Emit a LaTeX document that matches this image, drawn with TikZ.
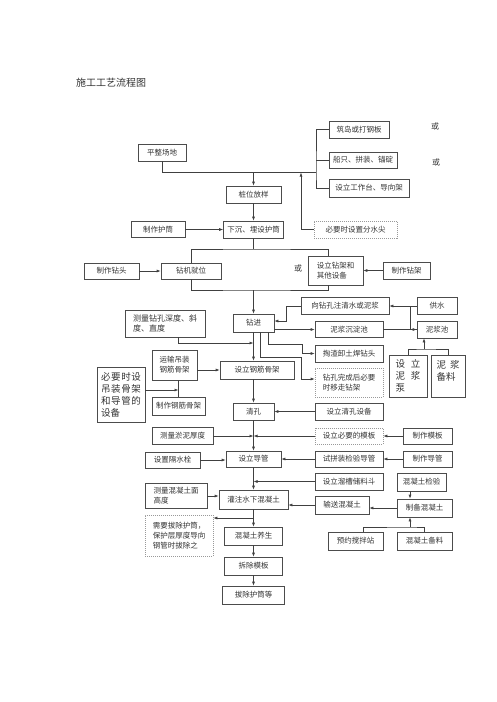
\documentclass[tikz,border=0pt]{standalone}
\usepackage{fontspec}
\newfontfamily\cjk{Noto Sans CJK SC}
\usetikzlibrary{arrows.meta}

\tikzset{
  box/.style={draw=black!70, line width=.6pt, inner sep=1pt, align=center,
    text=black!80, font=\cjk\fontsize{7.5}{10}\selectfont},
  dbox/.style={box, draw=black!40, dash pattern=on 1pt off 1pt},
  wh/.style 2 args={minimum width=#1pt, minimum height=#2pt},
  txt/.style={text=black!80, font=\cjk\fontsize{8}{10}\selectfont},
  big/.style={font=\cjk\fontsize{9.5}{12}\selectfont},
  conn/.style={draw=black!75, line width=.6pt},
  arr/.style={conn, -{Latex[length=4pt,width=3pt]}},
}

\begin{document}
\begin{tikzpicture}[x=1pt,y=-1pt]
  \useasboundingbox (0,0) rectangle (496,702);
  % 标题
  \node[font=\cjk\fontsize{10}{12}\selectfont,text=black!80] (title) at (111,83) {施工工艺流程图};
  % 场地与护筒
  \node[box,wh={48}{17}] (pzcd) at (162,152.5) {平整场地};
  \node[box,wh={60}{17}] (zd) at (359,129.5) {筑岛或打钢板};
  \node[box,wh={68}{16}] (cz) at (363,160) {船只、拼装、锚碇};
  \node[box,wh={80}{18}] (gzt) at (369,188) {设立工作台、导向架};
  \node[txt] (or1) at (435,126) {或};
  \node[txt] (or2) at (436,162) {或};
  \node[box,wh={55}{17}] (zwfy) at (253.5,194.5) {桩位放样};
  \node[dbox,wh={83}{17}] (fsj) at (355.5,229.5) {必要时设置分水尖};
  \node[box,wh={54}{16}] (hzt) at (158,229.5) {制作护筒};
  \node[box,wh={60}{17}] (xc) at (253.5,229.5) {下沉、埋设护筒};
  \coordinate (b1) at (316,172.5);
  \coordinate (b2) at (301,172.5);
  % 钻机
  \node[box,wh={55}{16}] (ztsj) at (111.5,271) {制作钻头};
  \node[box,wh={60}{16}] (zjjw) at (191,271) {钻机就位};
  \node[box,wh={55}{29},align=left] (zjsb) at (335.5,270.5) {设立钻架和\\其他设备};
  \node[box,wh={47}{17}] (zzzj) at (406.5,270.5) {制作钻架};
  \node[txt] (or3) at (298,268) {或};
  \coordinate (s1) at (253.5,249);
  \coordinate (s2) at (253.5,290);
  \coordinate (s3) at ([xshift=-7.5pt]zjsb.north);
  \coordinate (s4) at ([xshift=-7.5pt]zjsb.south);
  % 钻进
  \node[box,wh={41}{18}] (zj) at (253.5,323) {钻进};
  \node[box,wh={80}{27},align=left,font=\cjk\fontsize{8}{10}\selectfont] (clzk) at (165,323.5) {测量钻孔深度、斜\\度、直度};
  \node[box,wh={88}{17}] (zsqs) at (345,306) {向钻孔注清水或泥浆};
  \node[box,wh={40}{17}] (gs) at (437,306) {供水};
  \node[box,wh={68}{16}] (njcd) at (349,329.5) {泥浆沉淀池};
  \node[box,wh={40}{17}] (njc) at (437,329.5) {泥浆池};
  \node[box,wh={68}{17}] (tz) at (349,353.5) {掏渣卸土焊钻头};
  \node[dbox,wh={68}{29},align=left] (yzj) at (349,382.5) {钻孔完成后必要\\时移走钻架};
  \node[box,big,wh={38}{42},align=left] (njb) at (408,376) {设\hspace{6pt}立\\泥\hspace{6pt}浆\\泵};
  \node[box,big,wh={34}{42},align=left] (njbl) at (448,376) {泥\hspace{4pt}浆\\备料\\\mbox{}};
  \coordinate (c4) at (286,321);
  \coordinate (c5) at (268,344);
  \coordinate (c6) at (302,344);
  \coordinate (c7) at (260,357);
  \coordinate (c8) at (301,357);
  \coordinate (c9) at (410,306);
  \coordinate (c10) at (424,349);
  \coordinate (m1) at (253.5,343);
  % 钢筋骨架
  \node[box,wh={45}{30}] (ysdz) at (174.5,365) {运输吊装\\钢筋骨架};
  \node[box,big,wh={48}{55},align=left] (bzsb) at (121,394.5)
    {\makebox[40pt][s]{必\hfill 要\hfill 时\hfill 设}\\\makebox[40pt][s]{吊\hfill 装\hfill 骨\hfill 架}\\\makebox[40pt][s]{和\hfill 导\hfill 管\hfill 的}\\\makebox[40pt][l]{设备}};
  \node[box,wh={53}{18}] (zzgj) at (178.5,406) {制作钢筋骨架};
  \node[box,wh={74}{18}] (sljg) at (257,370) {设立钢筋骨架};
  \coordinate (m4) at (178.5,390);
  % 清孔
  \node[box,wh={41}{17}] (qk) at (253.5,411.5) {清孔};
  \node[box,wh={68}{17}] (qksb) at (349,411.5) {设立清孔设备};
  \node[box,wh={61}{17}] (clyn) at (182.5,436) {测量淤泥厚度};
  \node[dbox,wh={68}{16}] (mb) at (349,436) {设立必要的模板};
  \node[box,wh={49}{16}] (zzmb) at (427.5,436) {制作模板};
  \coordinate (m2) at (253.5,436);
  % 导管
  \node[box,wh={55}{16}] (gss) at (172.5,460) {设置隔水栓};
  \node[box,wh={55}{16}] (sldg) at (253.5,459) {设立导管};
  \node[box,wh={68}{16}] (spz) at (349,459) {试拼装检验导管};
  \node[box,wh={49}{16}] (zzdg) at (427.5,459) {制作导管};
  \node[box,wh={68}{17}] (lc) at (349,481.5) {设立溜槽储料斗};
  \coordinate (m3) at (253.5,481.5);
  % 混凝土
  \node[box,wh={49}{18}] (hjy) at (421.5,482) {混凝土检验};
  \node[box,wh={62}{25},align=left] (clhm) at (176,496) {测量混凝土面\\高度};
  \node[box,wh={69}{19}] (gz) at (253.5,499.5) {灌注水下混凝土};
  \node[box,wh={54}{18}] (ssh) at (342,505) {输送混凝土};
  \node[box,wh={55}{18}] (zbh) at (424.5,508) {制备混凝土};
  \node[box,wh={55}{18}] (yyj) at (355.5,541) {预约搅拌站};
  \node[box,wh={55}{18}] (hbl) at (424.5,541) {混凝土备料};
  \node[dbox,wh={68}{41},align=left] (bcht) at (179,535.5) {需要拔除护筒，\\保护层厚度导向\\钢管时拔除之};
  \node[box,wh={58}{18}] (yh) at (253.5,536) {混凝土养生};
  \node[box,wh={58}{18}] (cm) at (253.5,566) {拆除模板};
  \node[box,wh={62}{18}] (bc) at (253.5,595) {拔除护筒等};
  \coordinate (m5) at (253.5,518);
  \coordinate (c11) at (410,527);
  \coordinate (c12) at ([xshift=-11.5pt]hjy.south);

  % 上部连线
  \draw[conn] (zd.west) -| (b1) |- (gzt.west);
  \draw[conn] (cz.west) -- (cz.west -| b1);
  \draw[conn] (pzcd.south) |- (b1);
  \draw[arr] (zwfy.north |- b1) -- (zwfy.north);
  \draw[arr] (fsj.west) -| (b2);
  \draw[arr] (hzt.east) -- (hzt.east -| xc.west);
  \draw[conn] (xc.south) -- (s1);
  \draw[conn] (zjjw.north) |- (s1) -| (s3);
  \draw[conn] (zjjw.south) |- (s2) -| (s4);
  \draw[arr] (s2) -- (zj.north);
  \draw[arr] (ztsj) -- (zjjw);
  \draw[arr] (zzzj.west) -- (zzzj.west -| zjsb.east);
  % 主线
  \foreach \a/\b in {zwfy/xc, qk/sldg, sldg/gz, gz/yh, yh/cm, cm/bc}
    \draw[arr] (\a) -- (\b);
  \draw[arr] (zj.south) -- (zj.south |- sljg.north);
  \draw[arr] (qk.north |- sljg.south) -- (qk.north);
  % 钻进两侧
  \draw[arr] ([xshift=13pt]clzk.south) |- (m1);
  \draw[arr] (zsqs.west) -| (c4) -- (c4 -| zj.east);
  \draw[arr] (zj.east |- njcd) -- (njcd.west);
  \draw[arr] (zj.south -| c5) -- (c5) -- (c6) |- (tz.west);
  \draw[arr] (zj.south -| c7) -- (c7) -- (c8) |- ([yshift=3.5pt]yzj.west);
  \draw[arr] (gs.west) -- (gs.west -| zsqs.east);
  \draw[conn] (c9) |- (njc.west);
  \draw[arr] (njcd.east) -- (njcd.east -| njc.west);
  \draw[conn] (njb.north) |- (c10) -| (njbl.north);
  \draw[arr] (c10) -- (c10 |- njc.south);
  % 钢筋骨架
  \draw[arr] (ysdz.east |- sljg) -- (sljg.west);
  \draw[conn] (zzgj.north) -- (zzgj.north |- ysdz.south);
  \draw[arr] (bzsb.east |- m4) -- (m4);
  % 清孔与导管
  \draw[arr] (qksb.west) -- (qksb.west -| qk.east);
  \draw[arr] (clyn.east) -- (m2);
  \draw[arr] (mb.west) -- (m2);
  \draw[arr] (zzmb.west) -- (zzmb.west -| mb.east);
  \draw[arr] (gss.east) -- (gss.east -| sldg.west);
  \draw[arr] (spz.west) -- (spz.west -| sldg.east);
  \draw[arr] (zzdg.west) -- (zzdg.west -| spz.east);
  \draw[arr] (lc.west) -- (m3);
  % 混凝土
  \draw[arr] (clhm.east) -- (clhm.east -| gz.west);
  \draw[arr] (ssh.west) -- (ssh.west -| gz.east);
  \draw[arr] (zbh.west) -- (zbh.west -| ssh.east);
  \draw[arr] (c12) -- (c12 |- zbh.north);
  \draw[conn] ([xshift=7.5pt]yyj.north) |- (c11) -| (hbl.north);
  \draw[arr] (c11) -- (c11 |- zbh.south);
  \draw[arr] (m5) -- (m5 -| bcht.east);
\end{tikzpicture}
\end{document}
